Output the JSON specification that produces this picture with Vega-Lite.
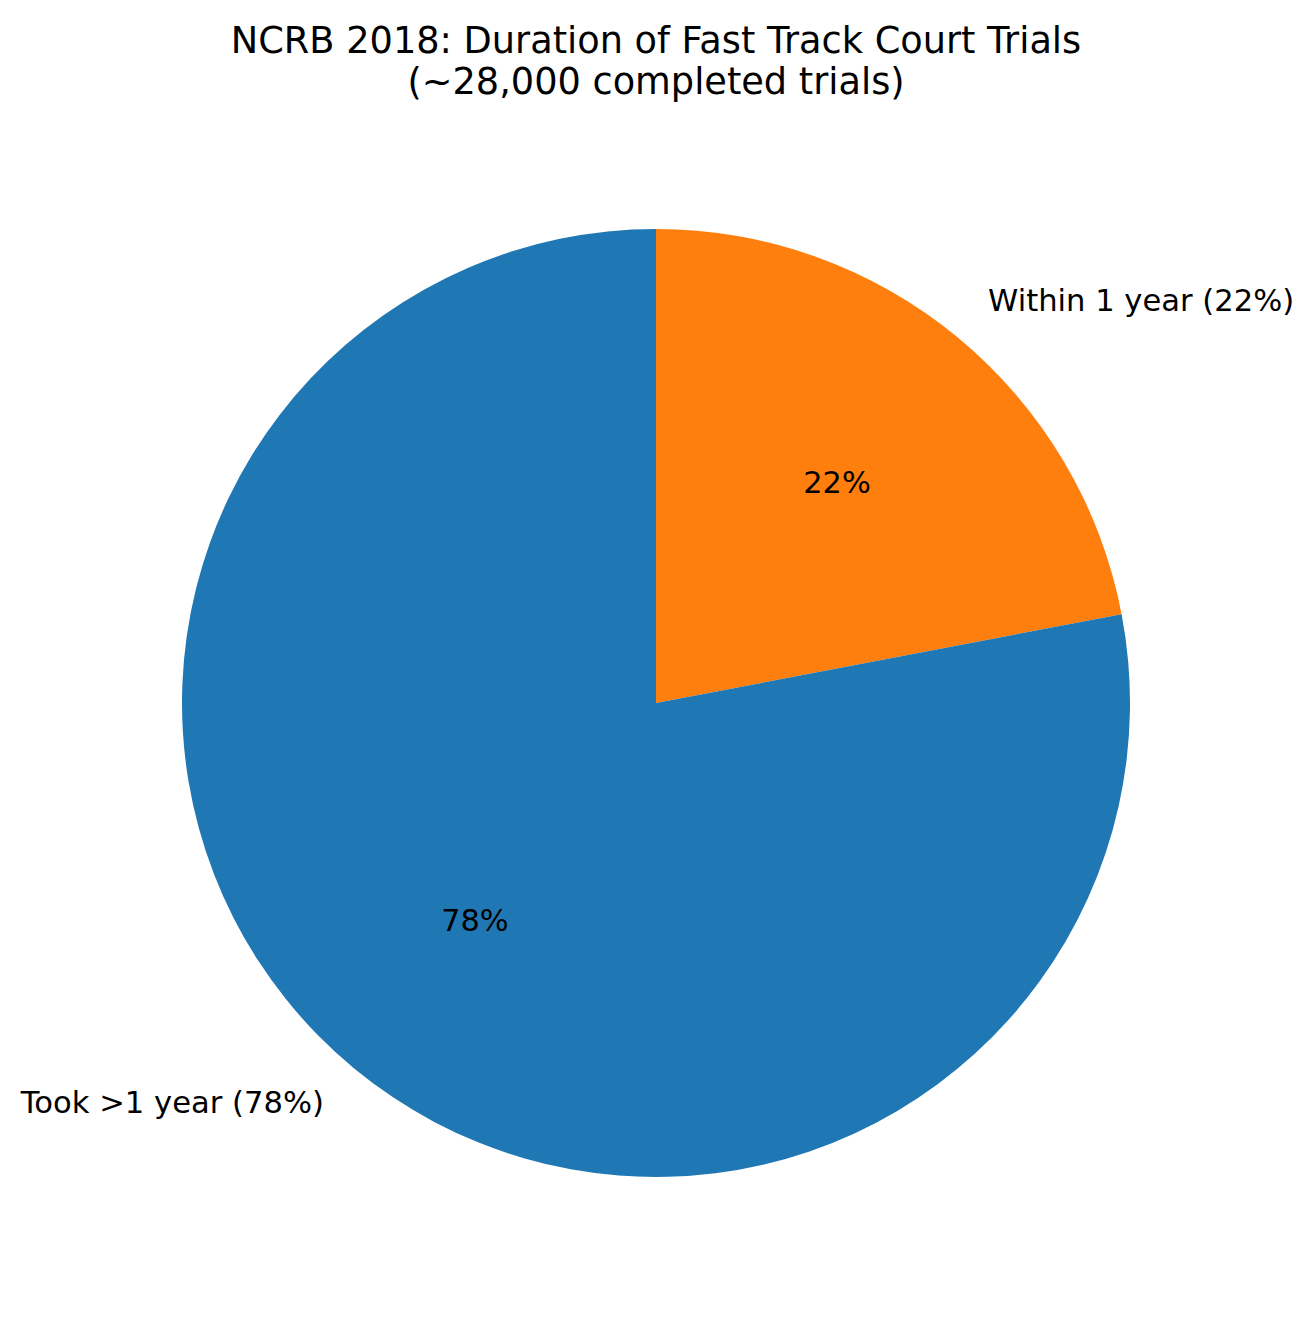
{
  "$schema": "https://vega.github.io/schema/vega-lite/v6.json",
  "autosize": "none",
  "padding": {"top": 120, "left": 0, "right": 4, "bottom": 33},
  "width": 1312,
  "height": 1166,
  "background": "white",
  "title": {
    "text": ["NCRB 2018: Duration of Fast Track Court Trials", "(~28,000 completed trials)"],
    "font": "DejaVu Sans",
    "fontSize": 36.7,
    "fontWeight": "normal",
    "color": "black",
    "lineHeight": 41,
    "anchor": "middle",
    "frame": "group",
    "offset": 18
  },
  "data": {
    "values": [
      {"category": "Within 1 year", "label": "Within 1 year (22%)", "pct": "22%", "value": 22},
      {"category": "Took >1 year", "label": "Took >1 year (78%)", "pct": "78%", "value": 78}
    ]
  },
  "encoding": {
    "theta": {"field": "value", "type": "quantitative", "stack": true},
    "order": {"field": "value", "type": "quantitative", "sort": "ascending"}
  },
  "layer": [
    {
      "mark": {"type": "arc", "outerRadius": 474},
      "encoding": {
        "color": {
          "field": "category",
          "type": "nominal",
          "scale": {"domain": ["Within 1 year", "Took >1 year"], "range": ["#ff7f0e", "#1f77b4"]},
          "legend": null
        }
      }
    },
    {
      "mark": {"type": "text", "radius": 284, "font": "DejaVu Sans", "fontSize": 30.4, "color": "black", "align": "center", "baseline": "middle"},
      "encoding": {"text": {"field": "pct"}}
    },
    {
      "mark": {"type": "text", "radius": 521, "font": "DejaVu Sans", "fontSize": 30.6, "color": "black", "baseline": "middle",
        "align": {"expr": "datum.category == 'Within 1 year' ? 'left' : 'right'"}},
      "encoding": {"text": {"field": "label"}}
    }
  ],
  "config": {"view": {"stroke": null}}
}
